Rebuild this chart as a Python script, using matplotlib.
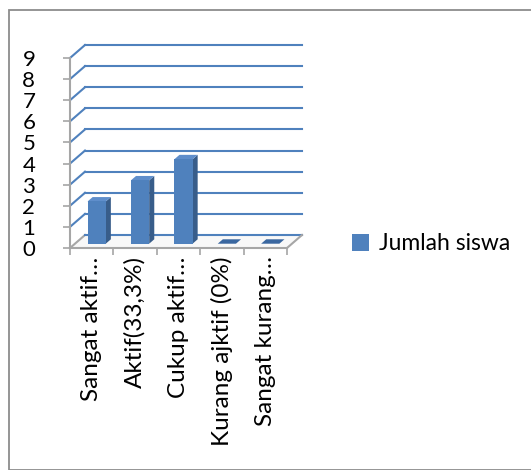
import matplotlib
matplotlib.use("Agg")
import matplotlib.pyplot as plt
import numpy as np
from matplotlib.patches import Polygon, Rectangle
from matplotlib.transforms import IdentityTransform

# data
kategori = ["Sangat aktif\u2026", "Aktif(33,3%)", "Cukup aktif\u2026",
            "Kurang ajktif (0%)", "Sangat kurang\u2026"]
jumlah_siswa = [2, 3, 4, 0, 0]
yticks = list(range(0, 10))
seri = "Jumlah siswa"

plt.rcParams['font.family'] = ['Lato', 'DejaVu Sans']

W, H = 531, 470
fig = plt.figure(figsize=(W / 100, H / 100), dpi=100)

# bingkai luar
fig.patches.append(Rectangle((9 / W, 0), 1, 1 - 10 / H, transform=fig.transFigure,
                             fill=False, edgecolor='#8c8c8c', linewidth=1.3))

ax = fig.add_axes([70 / W, (H - 248) / H, 217 / W, 190 / H])
ax.set_xlim(-0.5, len(kategori) - 0.5)
ax.set_ylim(0, 9)
ax.patch.set_visible(False)
for s in ['top', 'right']:
    ax.spines[s].set_visible(False)
ax.spines['left'].set_color('#a6a6a6')
ax.spines['bottom'].set_color('#a6a6a6')
ax.spines['left'].set_linewidth(1.5)
ax.spines['bottom'].set_linewidth(1.5)

ax.set_yticks(yticks)
ax.set_yticklabels([str(v) for v in yticks], fontsize=16)
ax.tick_params(axis='y', length=5, width=1.2, color='#a6a6a6', pad=20)
ax.set_xticks(range(len(kategori)))
ax.set_xticklabels(kategori, rotation=90, fontsize=17.5, va='top', ha='center')
ax.tick_params(axis='x', length=0, pad=6)
ax.set_xticks(np.arange(-0.5, len(kategori)), minor=True)
ax.tick_params(axis='x', which='minor', length=5, width=1.2, color='#a6a6a6')

fig.canvas.draw()
DEPTH = np.array([15.0, 13.0])  # offset dinding belakang (px)


def titik(x, y, d):
    p = ax.transData.transform((x, y))
    return p + d * DEPTH


def poligon(pts, fc, ec='none', lw=0, z=3):
    ax.add_patch(Polygon(pts, closed=True, transform=IdentityTransform(),
                         facecolor=fc, edgecolor=ec, linewidth=lw, zorder=z,
                         clip_on=False))


grid_c = '#4f81bd'
x0, x1 = -0.5, len(kategori) - 0.5
# garis grid di dinding belakang dan dinding kiri
for v in yticks:
    a, b = titik(x0, v, 0), titik(x0, v, 1)
    c = titik(x1, v, 1)
    col = '#a6a6a6' if v == 0 else grid_c
    ax.plot([a[0], b[0]], [a[1], b[1]], color=col, lw=1.5,
            transform=IdentityTransform(), clip_on=False, zorder=1)
    ax.plot([b[0], c[0]], [b[1], c[1]], color=grid_c, lw=1.5,
            transform=IdentityTransform(), clip_on=False, zorder=1)
# sisi kanan lantai
a, b = titik(x1, 0, 0), titik(x1, 0, 1)
ax.plot([a[0], b[0]], [a[1], b[1]], color='#a6a6a6', lw=1.5,
        transform=IdentityTransform(), clip_on=False, zorder=1)
poligon([titik(x0, 0, 0), titik(x1, 0, 0), titik(x1, 0, 1), titik(x0, 0, 1)],
        '#f8f8f8', z=0.5)

# batang 3D
lebar = 0.42
d0, d1 = 0.33, 0.67
for i, v in enumerate(jumlah_siswa):
    l, r = i - lebar / 2, i + lebar / 2
    poligon([titik(r, 0, d0), titik(r, v, d0), titik(r, v, d1), titik(r, 0, d1)], '#385d8a')
    poligon([titik(l, v, d0), titik(r, v, d0), titik(r, v, d1), titik(l, v, d1)],
            '#5f8ecb' if v > 0 else '#3a67a0')
    if v > 0:
        poligon([titik(l, 0, d0), titik(r, 0, d0), titik(r, v, d0), titik(l, v, d0)], '#4f81bd')

# legenda
h = Rectangle((0, 0), 1, 1, facecolor='#4f81bd')
fig.legend([h], [seri], loc='center left', bbox_to_anchor=(331 / W, 1 - 244 / H),
           frameon=False, fontsize=16.5, handlelength=0.75, handleheight=0.75,
           handletextpad=0.45)

fig.savefig("out.png", dpi=100)
